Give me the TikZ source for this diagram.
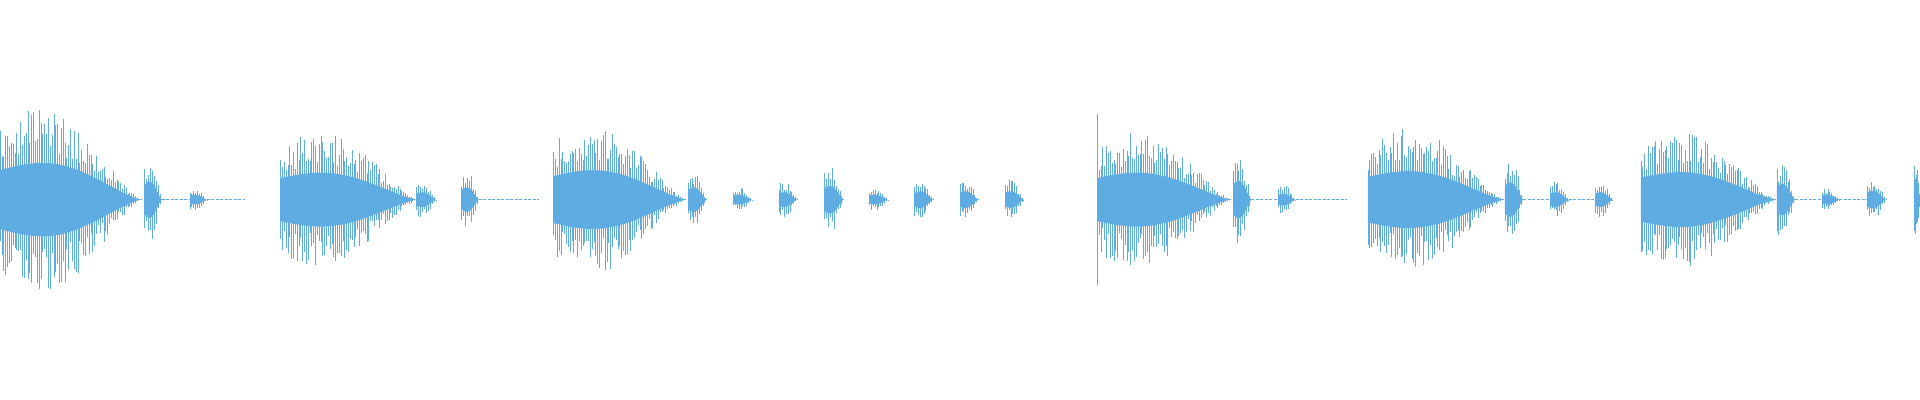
\documentclass[tikz,border=0pt]{standalone}
\usetikzlibrary{calc}
\definecolor{wave}{RGB}{95,172,226}
\begin{document}
\begin{tikzpicture}[x=1.2245pt,y=-1.2245pt,
  declare function={envf(\t)=(\t<0.3)*(0.8+0.2*sin(\t/0.3*90))+(\t>=0.3)*(max(cos((\t-0.3)/0.7*90),0.02))^1.3;}]
\useasboundingbox (0,0) rectangle (1568,326.6);
\pgfmathsetseed{7}
\newcommand{\wburst}[3]{%
  \fill[wave] plot[domain=0:1,samples=50,smooth] ({#1+#2*\x},{163-0.4*#3*envf(\x)})
     -- plot[domain=1:0,samples=50,smooth] ({#1+#2*\x},{163+0.4*#3*envf(\x)}) -- cycle;
  \pgfmathtruncatemacro\wn{max(#2/1.5,8)}
  \foreach \i in {0,...,\wn}{%
    \pgfmathsetmacro\tt{\i/\wn}
    \pgfmathsetmacro\ea{#3*envf(\tt)*(0.5+0.5*rnd)}
    \pgfmathsetmacro\eb{#3*envf(\tt)*(0.5+0.5*rnd)}
    \draw[wave,line width=0.45pt] ({#1+#2*\tt},{163-\ea}) -- ({#1+#2*\tt},{163+\eb});
  }%
}
\newcommand{\wline}[2]{\draw[wave,line width=0.4pt,dash pattern=on 3pt off 1.5pt] (#1,163) -- (#2,163);}
% group 1
\wburst{0}{115}{75}
\wburst{118}{14}{37}\wline{132}{155}
\wburst{155}{14}{10}\wline{169}{200}
% group 2
\wburst{229}{111}{55}
\wburst{340}{16}{15}
\wburst{377}{14}{25}\wline{391}{440}
% group 3
\wburst{452}{108}{60}
\wburst{562}{15}{25}
\wburst{599}{15}{10}
\wburst{636}{15}{15}
\wburst{673}{16}{28}
\wburst{710}{15}{10}
\wburst{747}{15}{17}
\wburst{784}{15}{17}
\wburst{821}{15}{17}
% group 4
\draw[wave,line width=0.6pt] (896,93) -- (896,233);
\wburst{896}{109}{55}
\wburst{1007}{15}{38}\wline{1022}{1044}
\wburst{1044}{14}{12}\wline{1058}{1100}
% group 5
\wburst{1117}{111}{58}
\wburst{1229}{15}{35}\wline{1244}{1266}
\wburst{1266}{15}{15}\wline{1281}{1303}
\wburst{1303}{14}{15}
% group 6
\wburst{1340}{110}{56}
\wburst{1451}{15}{32}\wline{1466}{1488}
\wburst{1488}{14}{10}\wline{1502}{1525}
\wburst{1525}{15}{18}
\wburst{1563}{5}{30}
\end{tikzpicture}
\end{document}
